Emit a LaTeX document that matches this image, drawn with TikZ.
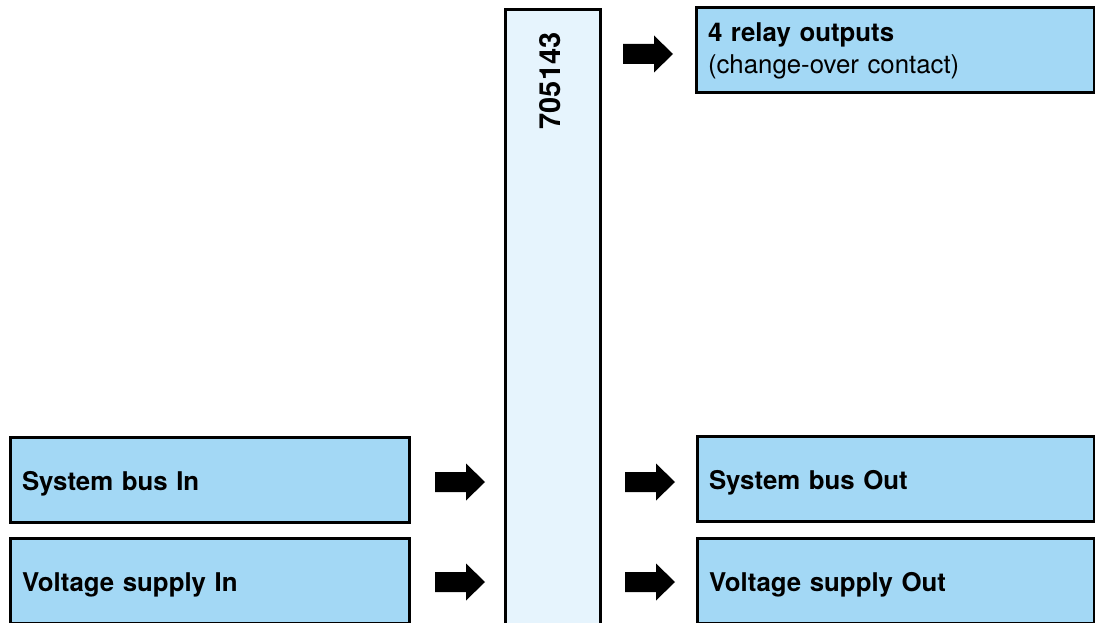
\documentclass[tikz,border=0pt]{standalone}
\usepackage{fontspec}
\setmainfont{TeX Gyre Heros}
\definecolor{boxblue}{HTML}{A3D8F5}
\definecolor{colblue}{HTML}{E6F4FD}
\tikzset{
  box/.style={draw, line width=3pt, fill=boxblue, minimum height=85pt,
    inner xsep=12pt, align=left, font=\fontsize{25.8}{32}\selectfont},
  onerow/.style={text height=21.5pt, text depth=0pt},
  pics/blockarrow/.style={code={
    \fill (0,-10) -- (31,-10) -- (31,-18.5) -- (50,0) -- (31,18.5) -- (31,10) -- (0,10) -- cycle;}}
}
\begin{document}
\begin{tikzpicture}[x=1pt,y=1pt]
    \useasboundingbox (0,0) rectangle (1095,-623);
    \node [draw, line width=3pt, fill=colblue, minimum width=95pt, minimum height=630pt, anchor=north] (dev) at (552.5,-8) {};
    \node [rotate=90, font=\fontsize{29}{34}\selectfont\bfseries] (num) at (550,-81) {705143};
    \node [box, onerow, text width=375pt] (busin) at (209.5,-479.5) {\bfseries System bus In};
    \node [box, onerow, text width=375pt] (voltin) at (209.5,-581) {\bfseries Voltage supply In};
    \node [box, onerow, text width=373pt] (busout) at (895.5,-478.5) {\bfseries System bus Out};
    \node [box, onerow, text width=373pt] (voltout) at (895.5,-580.5) {\bfseries Voltage supply Out};
    \node [box, text width=374pt] (relay) at (895,-50.5) {\textbf{4 relay outputs}\\(change-over contact)};
    \pic at (435,-482) {blockarrow};
    \pic at (435,-582) {blockarrow};
    \pic at (625,-482) {blockarrow};
    \pic at (625,-582) {blockarrow};
    \pic at (623,-54) {blockarrow};
\end{tikzpicture}
\end{document}
